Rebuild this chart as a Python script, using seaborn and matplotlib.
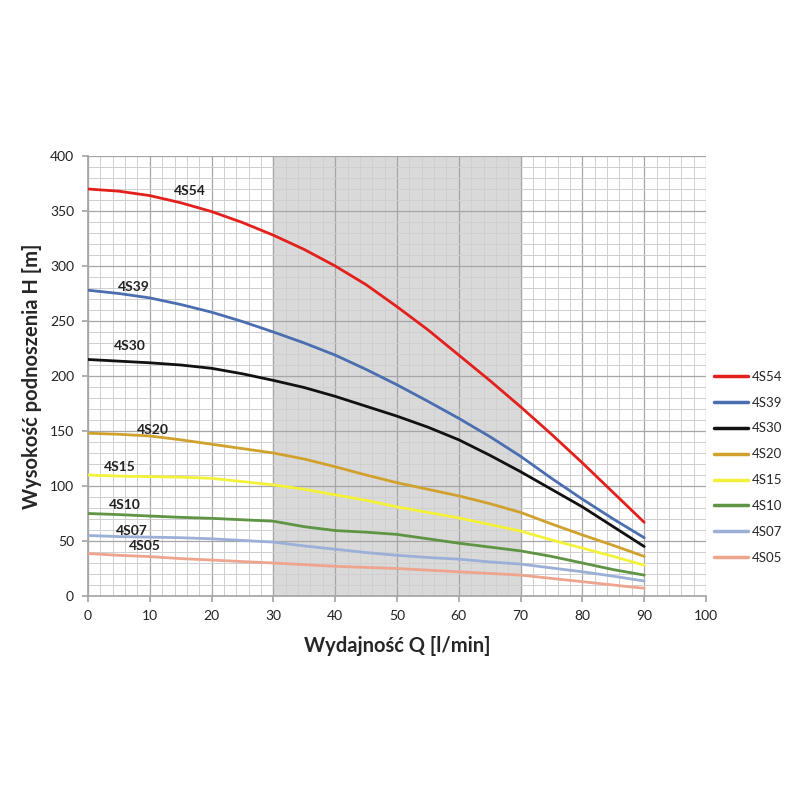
import matplotlib
matplotlib.use("Agg")
import matplotlib.pyplot as plt
import seaborn as sns
import pandas as pd
import numpy as np

q = [0, 5, 10, 15, 20, 25, 30, 35, 40, 45, 50, 55, 60, 65, 70, 75, 80, 85, 90]
h_4s54 = [370, 368, 364, 357.5, 349.5, 339.5, 328, 315, 300, 283, 263, 242, 219, 196, 172, 147, 121, 94, 67]
h_4s39 = [278, 275, 271, 265, 258, 249.5, 240, 230, 219, 206, 192, 177, 161.5, 145, 127, 107, 88, 70, 53]
h_4s30 = [215, 213.5, 212, 210, 207, 202, 196, 189.5, 181.5, 172.5, 163.5, 153.5, 142, 128, 113, 97, 81, 63, 45]
h_4s20 = [148, 147, 145.5, 142, 138, 134, 130, 124.5, 117.5, 110, 103, 97, 91, 84, 76, 65.5, 55.5, 46, 36]
h_4s15 = [110, 109, 108.5, 108, 107, 104, 101, 97, 92, 87, 81, 76, 71, 65, 59, 51, 43.5, 36, 28]
h_4s10 = [75, 74, 72.7, 71.5, 70.6, 69.3, 68, 63, 59.5, 58, 56, 52, 48, 44.5, 41, 36, 30, 24, 19]
h_4s07 = [55, 54, 53.5, 53, 52, 50.5, 49, 45.5, 42.5, 39.5, 37, 35, 33.5, 31, 29, 25.5, 22, 18, 13.6]
h_4s05 = [38.6, 37, 35.8, 34, 32.7, 31.3, 30, 28.5, 27, 26, 25, 23.5, 22, 20.5, 19, 16, 13, 10, 7]

series_names = ["4S54", "4S39", "4S30", "4S20", "4S15", "4S10", "4S07", "4S05"]
series_vals = [h_4s54, h_4s39, h_4s30, h_4s20, h_4s15, h_4s10, h_4s07, h_4s05]
colors = ["#e3201c", "#4a6eb0", "#111111", "#d1a12e", "#f2f23a", "#5e9444", "#9bafd7", "#eda58e"]
label_pos = [(16.5, 368), (7.4, 281), (6.8, 227), (10.5, 151), (5.2, 117), (6.0, 83), (7.1, 59), (9.2, 45)]

rows = []
for name, vals in zip(series_names, series_vals):
    for x, y in zip(q, vals):
        rows.append({"Q": x, "H": y, "pump": name})
df = pd.DataFrame(rows)

sns.set_theme(style="white")
plt.rcParams["font.family"] = ["Lato", "DejaVu Sans"]

fig = plt.figure(figsize=(8, 8), dpi=100)
ax = fig.add_axes([0.11, 0.255, 0.7725, 0.55])

ax.axvspan(30, 70, color="#d9d9d9", zorder=0)

sns.lineplot(data=df, x="Q", y="H", hue="pump", hue_order=series_names,
             palette=dict(zip(series_names, colors)), linewidth=2.0, ax=ax,
             legend=True, zorder=3)
for ln in ax.get_lines():
    ln.set_solid_joinstyle("round")

ax.set_xlim(0, 100)
ax.set_ylim(0, 400)
ax.set_xticks(np.arange(0, 101, 10))
ax.set_yticks(np.arange(0, 401, 50))
ax.set_xticks(np.arange(0, 101, 2), minor=True)
ax.set_yticks(np.arange(0, 401, 10), minor=True)
ax.grid(which="major", color="#a6a6a6", linewidth=0.9, zorder=1)
ax.grid(which="minor", color="#cfcfcf", linewidth=0.7, zorder=1)
ax.set_axisbelow(True)
for s in ax.spines.values():
    s.set_visible(False)
ax.spines["bottom"].set_visible(True)
ax.spines["bottom"].set_color("#a6a6a6")
ax.spines["left"].set_visible(True)
ax.spines["left"].set_color("#a6a6a6")
ax.tick_params(axis="both", which="major", labelsize=10, colors="#222222",
               length=4, color="#a6a6a6", pad=6, bottom=True, left=True)
ax.tick_params(which="minor", length=0)

ax.set_xlabel("Wydajność Q [l/min]", fontsize=14.5, fontweight="bold", labelpad=10)
ax.set_ylabel("Wysokość podnoszenia H [m]", fontsize=14.5, fontweight="bold", labelpad=6)

for name, (lx, ly) in zip(series_names, label_pos):
    ax.text(lx, ly, name, fontsize=10, fontweight="bold", ha="center", va="center",
            color="#222222", zorder=4)

leg = ax.legend(loc="upper left", bbox_to_anchor=(1.0, 0.53), frameon=False,
                fontsize=9.5, handlelength=2.6, labelspacing=1.05, handletextpad=0.3,
                borderaxespad=0.2)
for line in leg.get_lines():
    line.set_linewidth(2.5)

fig.savefig("out.png", dpi=100)
